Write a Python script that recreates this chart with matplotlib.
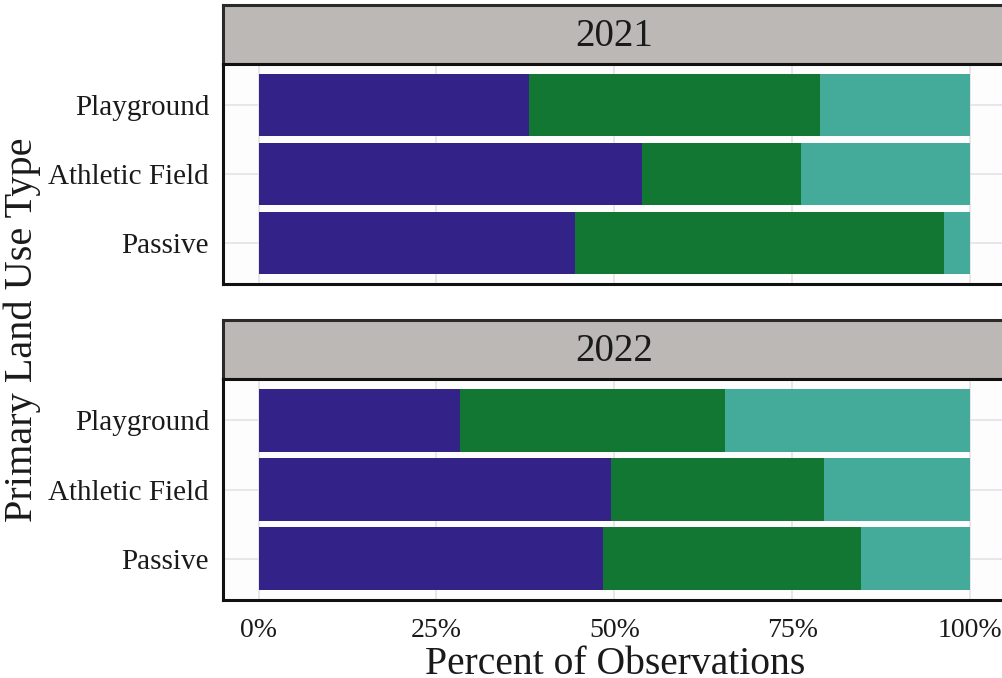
import matplotlib
matplotlib.use("Agg")
import matplotlib.pyplot as plt
import numpy as np

plt.rcParams['font.family'] = ['Liberation Serif', 'DejaVu Serif']

years = ["2021", "2022"]
categories = ["Playground", "Athletic Field", "Passive"]
# percent of observations per segment (left -> right)
seg1 = {"2021": [38.0, 53.9, 44.5], "2022": [28.3, 49.6, 48.4]}
seg2 = {"2021": [40.9, 22.3, 51.8], "2022": [37.2, 29.9, 36.3]}
seg3 = {"2021": [21.1, 23.8, 3.7], "2022": [34.5, 20.5, 15.3]}
colors = ["#332288", "#117733", "#44AA99"]
xticks = [0, 25, 50, 75, 100]
xticklabels = ["0%", "25%", "50%", "75%", "100%"]

W, H = 1002, 678
fig = plt.figure(figsize=(W / 100, H / 100), dpi=100)
fig.patch.set_facecolor("white")

def fx(px):
    return px / W

def fy(py):
    return 1 - py / H

left = fx(223)
width = fx(1005.6) - left
panels = [(5, 64, 284), (320, 379, 600)]

for i, (yr, (st_top, p_top, p_bot)) in enumerate(zip(years, panels)):
    # strip
    sax = fig.add_axes([left, fy(p_top), width, fy(st_top) - fy(p_top)])
    sax.set_facecolor("#BBB8B6")
    sax.set_xticks([]); sax.set_yticks([])
    for s in sax.spines.values():
        s.set_color("#2a2a2a"); s.set_linewidth(2.2)
    sax.text(0.5, 0.47, yr, ha="center", va="center", fontsize=28,
             color="#1a1a1a", transform=sax.transAxes)

    ax = fig.add_axes([left, fy(p_bot), width, fy(p_top) - fy(p_bot)])
    ax.set_facecolor("#FEFDFE")
    ypos = np.arange(len(categories))[::-1]
    a = np.array(seg1[yr]); b = np.array(seg2[yr]); c = np.array(seg3[yr])
    ax.barh(ypos, a, height=0.9, color=colors[0], zorder=2)
    ax.barh(ypos, b, left=a, height=0.9, color=colors[1], zorder=2)
    ax.barh(ypos, c, left=a + b, height=0.9, color=colors[2], zorder=2)
    ax.set_xlim(-5, 105)
    ax.set_ylim(-0.6, len(categories) - 0.4)
    ax.set_yticks(ypos)
    ax.set_yticklabels(categories, fontsize=21, color="#1a1a1a")
    ax.set_xticks(xticks)
    ax.grid(True, color="#E4E2E4", linewidth=1.2, zorder=0)
    ax.set_axisbelow(True)
    ax.tick_params(length=0, pad=10)
    for s in ax.spines.values():
        s.set_color("#111111"); s.set_linewidth(2.2)
    if i == 1:
        ax.set_xticklabels(xticklabels, fontsize=20, color="#1a1a1a")
        ax.tick_params(axis="x", pad=13)
    else:
        ax.set_xticklabels([])

fig.text(fx(615), fy(664), "Percent of Observations", ha="center", va="center",
         fontsize=28.5, color="#1a1a1a")
fig.text(fx(22), fy(330), "Primary Land Use Type", ha="center", va="center",
         rotation=90, fontsize=29, color="#1a1a1a")

fig.savefig("out.png", dpi=100)
